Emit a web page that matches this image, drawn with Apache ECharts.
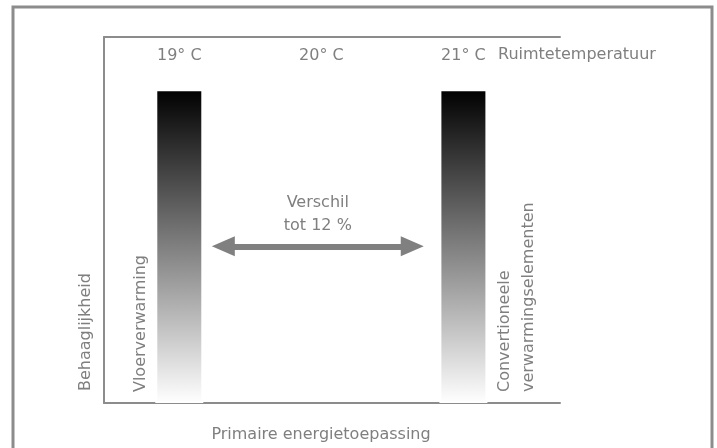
<!DOCTYPE html>
<html><head><meta charset="utf-8">
<script src="https://cdn.jsdelivr.net/npm/echarts@6/dist/echarts.min.js"></script>
<style>html,body{margin:0;padding:0;background:#fff}#c{width:717px;height:448px}</style>
</head><body><div id="c"></div>
<script>
// ---- data ----
const temperatures = [19, 20, 21];
const tickLabels = ['19° C', '20° C', '21° C'];
const systemNames = ['Vloerverwarming', 'Convertioneele\nverwarmingselementen'];
const systemTemps = [19, 21];
const comfortValues = [85.7, 85.7];
const arrowRange = [19.31, 20.64];
const arrowLevel = 42.8;
const arrowLabel = 'Verschil\ntot 12 %';
const xTitleTop = 'Ruimtetemperatuur';
const xTitleBottom = 'Primaire energietoepassing';
const yTitle = 'Behaaglijkheid';

// ---- styles ----
const FONT = "'DejaVu Sans', Verdana, sans-serif";
const FS = 16;
const TXT = '#7f7f7f';
const LINE = '#8c8c8c';

const chart = echarts.init(document.getElementById('c'), null, {renderer: 'canvas'});

const barGradient = new echarts.graphic.LinearGradient(0, 0, 0, 1, [
  {offset: 0, color: '#000000'},
  {offset: 1, color: '#ffffff'}
]);

const labelPositions = [[-14, '96.5%'], [77, '96.5%']];

const barData = systemTemps.map((t, i) => ({
  value: [t, comfortValues[i]],
  label: {
    show: true,
    formatter: systemNames[i],
    position: labelPositions[i],
    rotate: 90,
    align: 'left',
    verticalAlign: 'middle',
    color: TXT,
    fontFamily: FONT,
    fontSize: FS,
    lineHeight: 24
  }
}));

const xBase = {
  type: 'value',
  min: 18.47,
  max: 21.68,
  splitLine: {show: false},
  axisTick: {show: false},
  nameMoveOverlap: false,
  axisLine: {show: true, onZero: false, lineStyle: {color: LINE, width: 2}}
};
const yBase = {
  type: 'value', min: 0, max: 100, position: 'left',
  splitLine: {show: false}, axisTick: {show: false}, axisLabel: {show: false},
  nameMoveOverlap: false,
  axisLine: {show: true, onZero: false, lineStyle: {color: LINE, width: 2}}
};
const nameStyle = {color: TXT, fontFamily: FONT, fontSize: FS};

chart.setOption({
  animation: false,
  backgroundColor: '#fff',
  grid: {left: 104, right: 157, top: 37, bottom: 44, containLabel: false},
  graphic: [{
    type: 'rect', silent: true, z: 100,
    shape: {x: 13, y: 7, width: 699, height: 450},
    style: {fill: 'none', stroke: LINE, lineWidth: 3}
  }],
  xAxis: [
    Object.assign({}, xBase, {
      position: 'top',
      axisLabel: {
        show: true, inside: true, margin: 11,
        customValues: temperatures,
        formatter: v => tickLabels[temperatures.indexOf(v)],
        color: TXT, fontFamily: FONT, fontSize: FS
      }
    }),
    Object.assign({}, xBase, {
      position: 'bottom',
      axisLabel: {show: false},
      name: xTitleBottom,
      nameLocation: 'middle',
      nameGap: 24,
      nameTextStyle: Object.assign({}, nameStyle, {padding: [0, 22, 0, 0]})
    }),
    Object.assign({}, xBase, {
      position: 'top',
      offset: -18,
      axisLine: {show: false, onZero: false},
      axisLabel: {show: false},
      name: xTitleTop,
      nameLocation: 'end',
      nameGap: -62,
      nameTextStyle: Object.assign({}, nameStyle, {align: 'left', verticalAlign: 'middle'})
    })
  ],
  yAxis: [
    Object.assign({}, yBase),
    Object.assign({}, yBase, {
      offset: 18,
      axisLine: {show: false, onZero: false},
      name: yTitle,
      nameLocation: 'start',
      nameRotate: 90,
      nameGap: -12,
      nameTextStyle: Object.assign({}, nameStyle, {align: 'left', verticalAlign: 'middle'})
    })
  ],
  series: [{
    type: 'bar',
    xAxisIndex: 0,
    yAxisIndex: 0,
    barWidth: 48,
    z: 5,
    itemStyle: {color: barGradient, borderColor: '#fff', borderWidth: 2},
    data: barData,
    markLine: {
      silent: true,
      symbol: ['triangle', 'triangle'],
      symbolSize: [20, 23],
      lineStyle: {color: '#808080', width: 6, type: 'solid'},
      label: {
        show: true, position: 'middle', distance: 9,
        formatter: arrowLabel, color: TXT, fontFamily: FONT, fontSize: FS, lineHeight: 23
      },
      emphasis: {disabled: true},
      data: [[{coord: [arrowRange[0], arrowLevel]}, {coord: [arrowRange[1], arrowLevel]}]]
    }
  }]
});
</script></body></html>
